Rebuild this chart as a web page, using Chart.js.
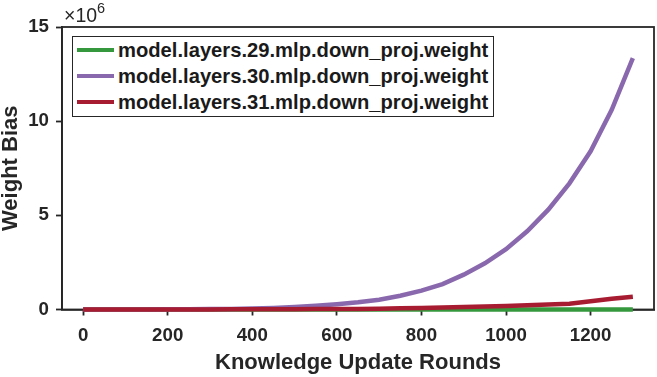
<!DOCTYPE html>
<html>
<head>
<meta charset="utf-8">
<script src="https://cdn.jsdelivr.net/npm/chart.js@4/dist/chart.umd.min.js"></script>
<style>
  html, body { margin: 0; padding: 0; background: #fff; }
  #wrap { position: relative; width: 657px; height: 377px; }
  #c { position: absolute; left: 0; top: 0; }
  #expo { position: absolute; left: 64px; top: 5px; font: 19.5px "Liberation Sans", Arial, sans-serif; color: #262626; line-height: 20px; white-space: nowrap; }
  #expo sup { font-size: 14.5px; position: relative; top: -4px; vertical-align: top; line-height: 14px; }
  #legend { position: absolute; left: 72px; top: 36px; width: 422px; height: 81px; box-sizing: border-box; border: 1.6px solid #262626; background: #fff; }
  .row { display: flex; align-items: center; height: 26px; padding-left: 4px; font: bold 20.2px "Liberation Sans", Arial, sans-serif; color: #1a1a1a; white-space: nowrap; }
  .sw { width: 37px; height: 4.5px; margin-right: 4px; flex: none; }
</style>
</head>
<body>
<div id="wrap">
  <canvas id="c" width="657" height="377"></canvas>
  <div id="expo">×10<sup>6</sup></div>
  <div id="legend"></div>
</div>
<script>
// Knowledge update rounds
const rounds = [0,50,100,150,200,250,300,350,400,450,500,550,600,650,700,750,800,850,900,950,1000,1050,1100,1150,1200,1250,1300];
// Weight bias (x 10^6)
const layer29 = [0,0,0,0,0,0,0,0,0,0,0,0,0,0,0,0,0,0,0,0,0,0,0,0,0,0,0];
const layer30 = [0,0,0,0,0.01,0.01,0.02,0.03,0.05,0.08,0.13,0.2,0.28,0.38,0.52,0.73,1.0,1.35,1.85,2.45,3.2,4.15,5.3,6.7,8.4,10.6,13.35];
const layer31 = [0,0,0,0,0,0,0,0.01,0.01,0.01,0.01,0.02,0.02,0.03,0.04,0.06,0.08,0.1,0.13,0.16,0.19,0.22,0.26,0.31,0.44,0.57,0.68];
const seriesNames = ['model.layers.29.mlp.down_proj.weight','model.layers.30.mlp.down_proj.weight','model.layers.31.mlp.down_proj.weight'];
const seriesColors = ['#35983d','#8a68ad','#a81c32'];
const xTicks = [0,200,400,600,800,1000,1200];
const yTicks = [0,5,10,15];

const axisColor = '#262626';
const family = '"Liberation Sans", Arial, sans-serif';

const frame = {
  id: 'frame',
  beforeDatasetsDraw(chart) {
    const {ctx, chartArea: a} = chart;
    ctx.save();
    ctx.strokeStyle = axisColor;
    ctx.lineWidth = 1.8;
    ctx.strokeRect(a.left, a.top, a.right - a.left, a.bottom - a.top);
    ctx.restore();
  }
};

function mk(i, data, order) {
  return {
    label: seriesNames[i],
    data: rounds.map((r, k) => ({x: r, y: data[k]})),
    borderColor: seriesColors[i],
    backgroundColor: seriesColors[i],
    borderWidth: 4.5,
    pointRadius: 0,
    tension: 0,
    fill: false,
    clip: false,
    borderCapStyle: 'butt',
    order: order
  };
}

const chart = new Chart(document.getElementById('c'), {
  type: 'line',
  data: {
    datasets: [mk(0, layer29, 2), mk(1, layer30, 1), mk(2, layer31, 0)]
  },
  options: {
    responsive: false,
    animation: false,
    layout: { padding: { left: 0, right: 3, top: 27, bottom: 0 } },
    plugins: { legend: { display: false }, tooltip: { enabled: false } },
    scales: {
      x: {
        type: 'linear',
        min: -50, max: 1350,
        afterBuildTicks(s) { s.ticks = xTicks.map(v => ({value: v})); },
        afterFit(s) { s.height = 67.5; },
        grid: { drawOnChartArea: false, drawTicks: true, tickLength: 6, tickColor: axisColor, tickWidth: 1.8 },
        border: { display: true, color: axisColor, width: 1.8 },
        ticks: { color: axisColor, padding: 11.5, callback: v => String(v), font: { family: family, weight: 'bold', size: 18.7, lineHeight: 1 }, maxRotation: 0 },
        title: { display: true, text: 'Knowledge Update Rounds', color: axisColor, padding: { top: 0, bottom: 3 }, font: { family: family, weight: 'bold', size: 22, lineHeight: 1 } }
      },
      y: {
        type: 'linear',
        min: 0, max: 15,
        afterBuildTicks(s) { s.ticks = yTicks.map(v => ({value: v})); },
        afterFit(s) { s.width = 62; },
        grid: { drawOnChartArea: false, drawTicks: true, tickLength: 6, tickColor: axisColor, tickWidth: 1.8 },
        border: { display: true, color: axisColor, width: 1.8 },
        ticks: { color: axisColor, padding: 7, callback: v => String(v), font: { family: family, weight: 'bold', size: 18.7, lineHeight: 1 } },
        title: { display: true, text: 'Weight Bias', color: axisColor, padding: { top: 0, bottom: 0 }, font: { family: family, weight: 'bold', size: 22, lineHeight: 1 } }
      }
    }
  },
  plugins: [frame]
});

// HTML legend built from the chart's datasets
const leg = document.getElementById('legend');
chart.data.datasets.forEach(ds => {
  const row = document.createElement('div');
  row.className = 'row';
  const sw = document.createElement('span');
  sw.className = 'sw';
  sw.style.background = ds.borderColor;
  const tx = document.createElement('span');
  tx.textContent = ds.label;
  row.appendChild(sw); row.appendChild(tx);
  leg.appendChild(row);
});
</script>
</body>
</html>
